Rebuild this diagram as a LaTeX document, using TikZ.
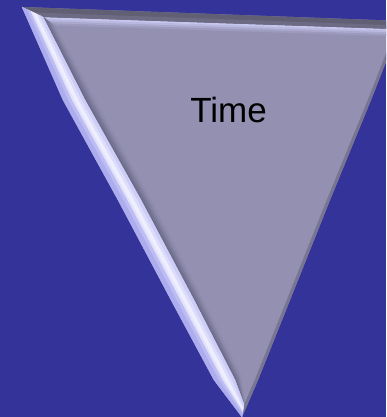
\documentclass[tikz,border=0pt]{standalone}
\usepackage{fontspec}
\setmainfont{Liberation Sans}
\usetikzlibrary{calc}
\definecolor{deskblue}{RGB}{51,51,153}
\definecolor{facegray}{RGB}{147,144,178}
\definecolor{bevelmid}{RGB}{172,172,238}
\definecolor{bevellight}{RGB}{205,205,248}
\definecolor{bevelhigh}{RGB}{238,238,255}
\definecolor{rimdark}{RGB}{96,95,116}
\definecolor{shadowgray}{RGB}{106,104,134}
\definecolor{toplight}{RGB}{198,198,238}
\tikzset{
	strip/.style={draw=#1, fill=#1, line width=0.4pt},
	rim/.style={line width=6pt, line join=round}
}

\begin{document}
\begin{tikzpicture}[
    % one unit is one pixel of the picture, y runs downwards
    x=1pt, y=-1pt,
    label/.style={font=\fontsize{35}{42}\selectfont, inner sep=0pt, anchor=base}
]

% --- CANVAS ---
\useasboundingbox (0,0) rectangle (386,417);
\fill[deskblue] (0,0) rectangle (386,417);
\clip (0,0) rectangle (386,417);

% --- POINTS OF THE TRIANGLE ---
% outer left edge, top corner down to the tip
\coordinate (L1) at (22,7);
\coordinate (L2) at (63,100);
\coordinate (L3) at (118,200);
\coordinate (L4) at (171,300);
\coordinate (L5) at (214,380);
\coordinate (L6) at (242,417);
% inner edge of the left bevel
\coordinate (I1) at (43,17);
\coordinate (I2) at (85,100);
\coordinate (I3) at (141,200);
\coordinate (I4) at (194,300);
\coordinate (I5) at (235,380);
\coordinate (I6) at (244,404);
% where the shadow on the face fades out
\coordinate (S1) at (55,26);
\coordinate (S2) at (95,100);
\coordinate (S3) at (151,200);
\coordinate (S4) at (203,300);
\coordinate (S5) at (241,376);
\coordinate (S6) at (245,402);
% outer right edge (its top corner lies outside the picture)
\coordinate (R1) at (402,21);
\coordinate (R2) at (371,100);
\coordinate (R3) at (330,200);
\coordinate (R4) at (290,300);
\coordinate (R5) at (258,380);
% top bevel
\coordinate (IR) at (395,29);
\coordinate (HL) at (47,25);
\coordinate (HR) at (392,36);

% --- FACE ---
\fill[facegray] (L1) -- (R1) -- (R2) -- (R3) -- (R4) -- (R5) -- (L6)
    -- (L5) -- (L4) -- (L3) -- (L2) -- cycle;

% light band under the top bevel
\foreach \a/\b/\p in {0/0.3/100, 0.3/0.55/75, 0.55/0.8/45, 0.8/1/18}
    \filldraw[strip=toplight!\p!facegray] ($(I1)!\a!(HL)$) -- ($(IR)!\a!(HR)$)
        -- ($(IR)!\b!(HR)$) -- ($(I1)!\b!(HL)$) -- cycle;

% shadow thrown by the left bevel
\foreach \a/\b/\p in {0/0.2/100, 0.2/0.4/78, 0.4/0.6/55, 0.6/0.8/33, 0.8/1/12}
    \filldraw[strip=shadowgray!\p!facegray] ($(I1)!\a!(S1)$) -- ($(I2)!\a!(S2)$)
        -- ($(I3)!\a!(S3)$) -- ($(I4)!\a!(S4)$) -- ($(I5)!\a!(S5)$) -- ($(I6)!\a!(S6)$)
        -- ($(I6)!\b!(S6)$) -- ($(I5)!\b!(S5)$) -- ($(I4)!\b!(S4)$)
        -- ($(I3)!\b!(S3)$) -- ($(I2)!\b!(S2)$) -- ($(I1)!\b!(S1)$) -- cycle;

% narrow dark rim on the right
\begin{scope}
    \clip (L1) -- (R1) -- (R2) -- (R3) -- (R4) -- (R5) -- (L6)
        -- (L5) -- (L4) -- (L3) -- (L2) -- cycle;
    \draw[rim, rimdark!55!facegray] (R1) -- (R2) -- (R3) -- (R4) -- (R5) -- (L6);
\end{scope}

% --- TOP BEVEL ---
\fill[rimdark] (L1) -- (R1) -- (IR) -- (I1) -- cycle;
\fill[rimdark!75!facegray] ($(L1)!0.55!(I1)$) -- ($(R1)!0.55!(IR)$) -- (IR) -- (I1) -- cycle;

% --- LEFT BEVEL ---
\foreach \a/\b/\shadecol in {0/0.25/bevelmid, 0.25/0.42/bevelmid!50!bevellight,
        0.42/0.52/bevellight!40!bevelhigh, 0.52/0.72/bevelhigh,
        0.72/0.86/bevelhigh!45!bevellight, 0.86/1/bevellight}
    \filldraw[strip=\shadecol] ($(L1)!\a!(I1)$) -- ($(L2)!\a!(I2)$)
        -- ($(L3)!\a!(I3)$) -- ($(L4)!\a!(I4)$) -- ($(L5)!\a!(I5)$) -- ($(L6)!\a!(I6)$)
        -- ($(L6)!\b!(I6)$) -- ($(L5)!\b!(I5)$) -- ($(L4)!\b!(I4)$)
        -- ($(L3)!\b!(I3)$) -- ($(L2)!\b!(I2)$) -- ($(L1)!\b!(I1)$) -- cycle;

% --- LABEL ---
\node[label] (timelabel) at (228.5,122) {Time};

\end{tikzpicture}
\end{document}
